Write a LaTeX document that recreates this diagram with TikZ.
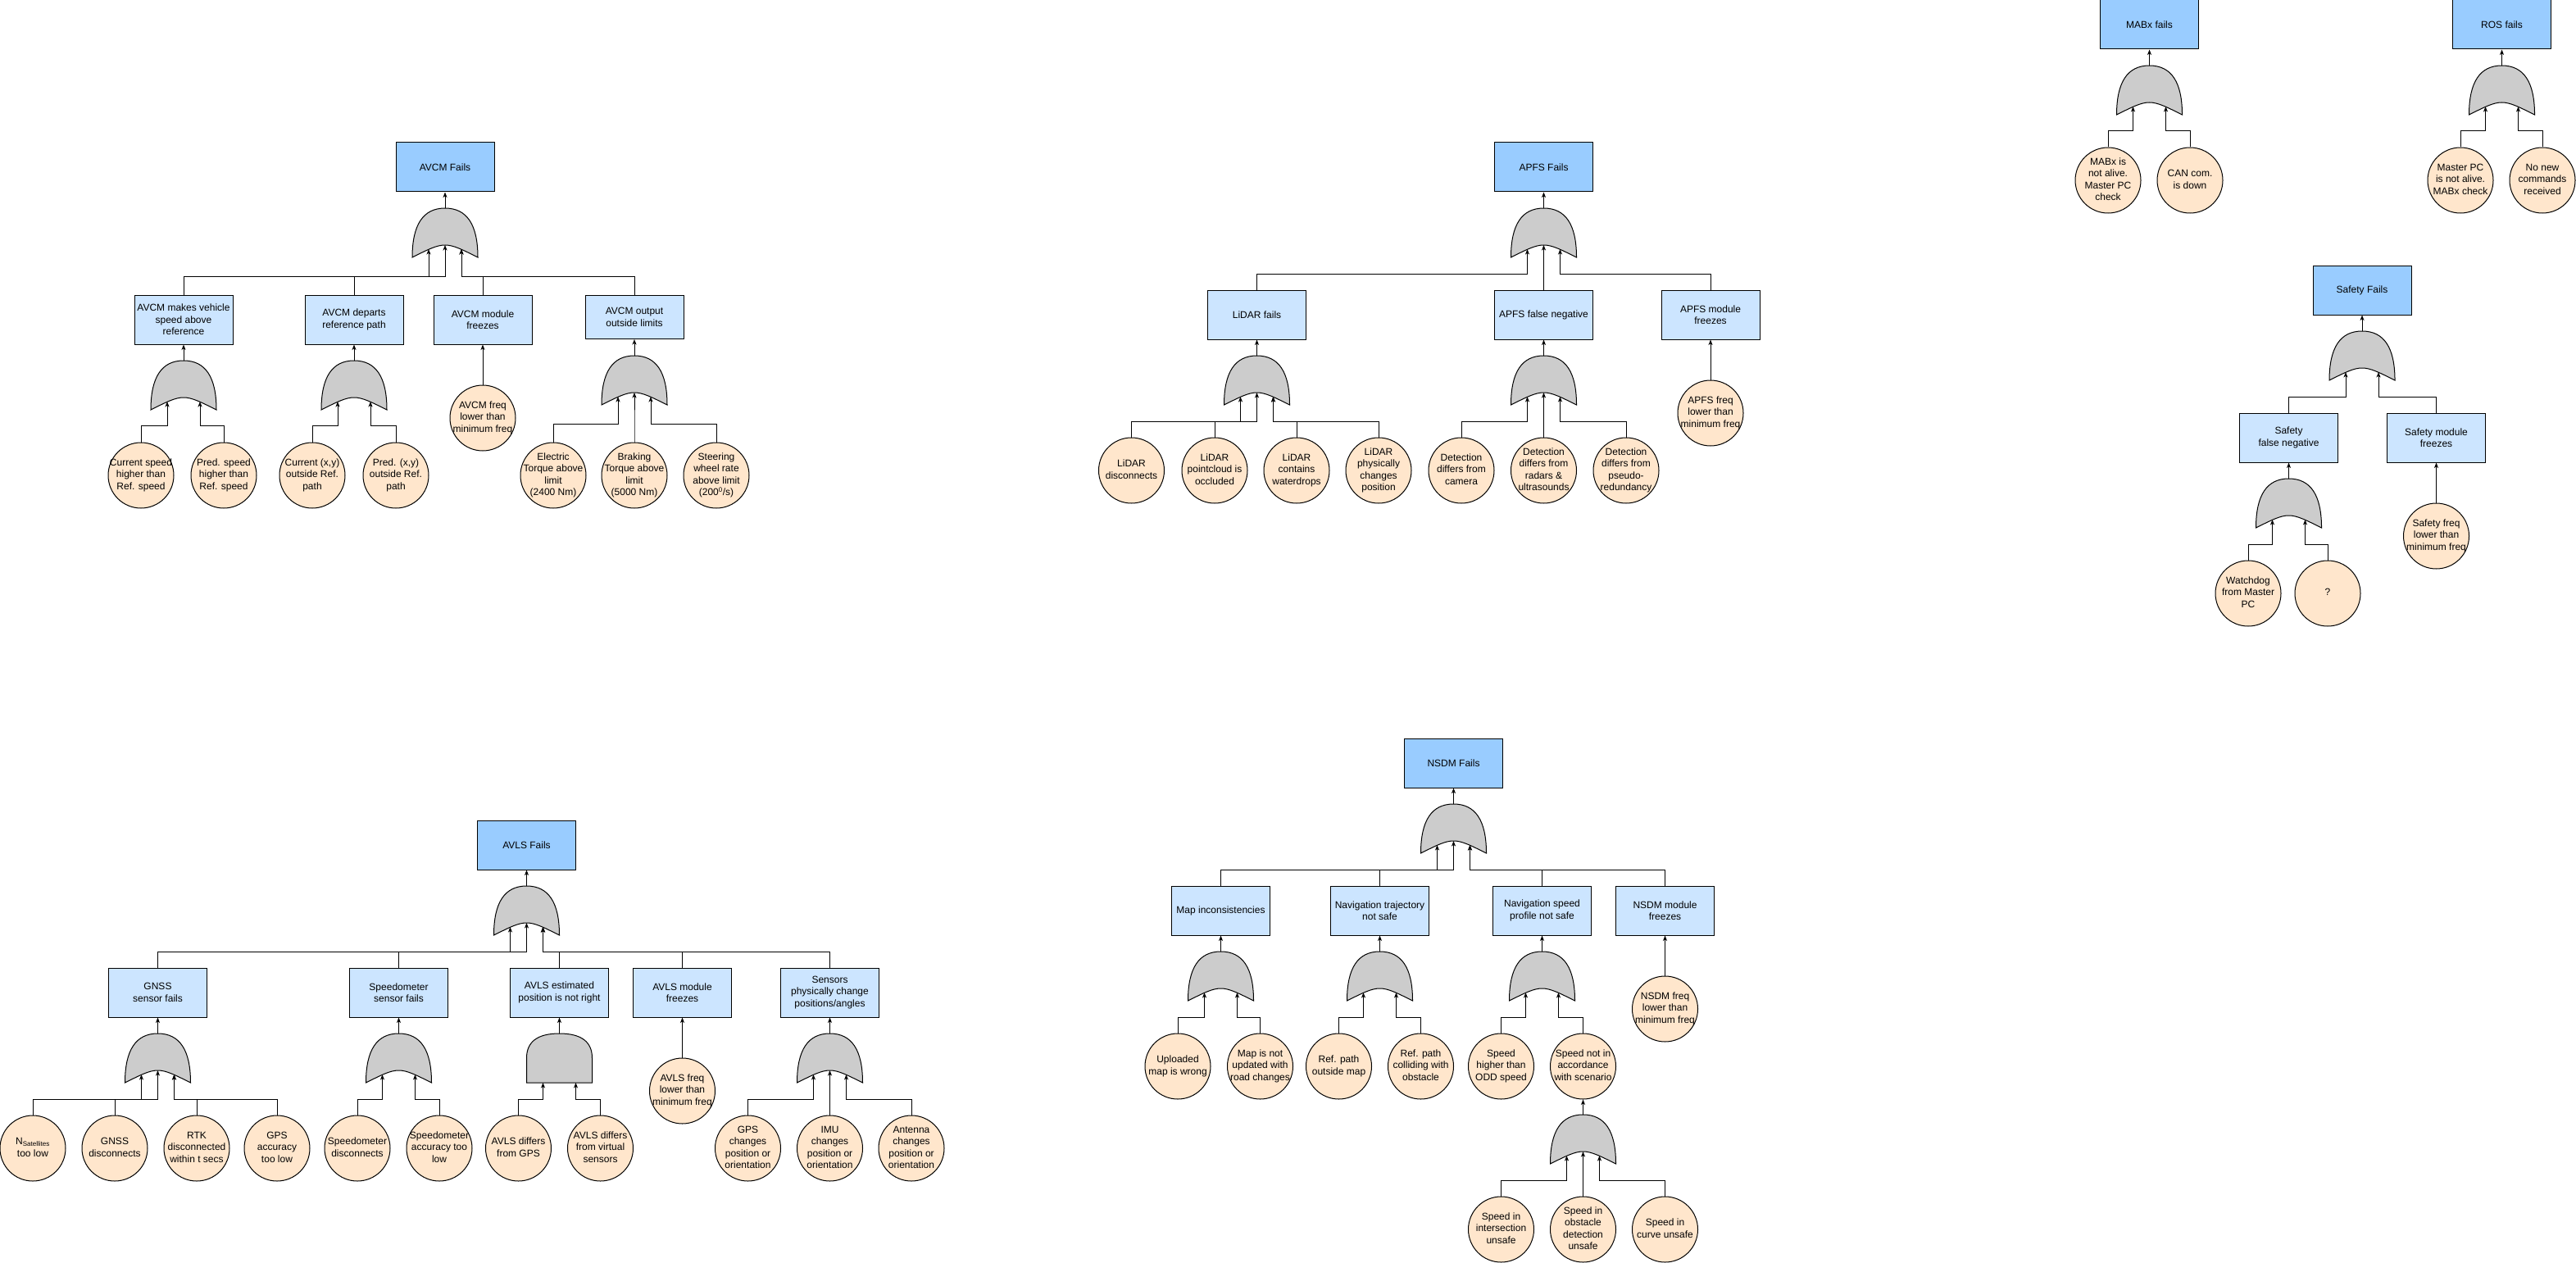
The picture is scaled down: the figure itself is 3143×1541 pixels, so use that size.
\documentclass[tikz,border=0pt]{standalone}
\usepackage{fontspec}
\setmainfont{Liberation Sans}
\usetikzlibrary{arrows.meta}

\definecolor{topblue}{HTML}{99CCFF}
\definecolor{subblue}{HTML}{CCE5FF}
\definecolor{evorange}{HTML}{FFE6CC}
\definecolor{gategray}{HTML}{CCCCCC}

\newcommand{\fsz}{\fontsize{12pt}{14.4pt}\selectfont}
\newcommand{\evtext}[1]{\makebox[0pt]{\begin{tabular}{@{}c@{}}#1\end{tabular}}}

\tikzset{
  every node/.style={font=\fsz},
  topbox/.style={draw, line width=1pt, fill=topblue, minimum width=120pt, minimum height=60pt, align=center, inner sep=2pt},
  subbox/.style={topbox, fill=subblue},
  event/.style={draw, line width=1pt, fill=evorange, circle, minimum size=80pt, inner sep=0pt},
  arr/.style={line width=1pt, -{Stealth[length=6.5pt,width=5pt,inset=1.8pt]}},
  gateshape/.style={draw, line width=1pt, fill=gategray},
  pics/orgate/.style={code={
    \draw[gateshape] (-40,60) .. controls (-40,20) and (-26.67,0) .. (0,0)
      .. controls (26.67,0) and (40,20) .. (40,60)
      .. controls (0,40) .. (-40,60) -- cycle;
    \coordinate (-out) at (0,0);
    \coordinate (-l) at (-20,50);
    \coordinate (-m) at (0,45);
    \coordinate (-r) at (20,50);
    \coordinate (-bus) at (0,#1);
  }},
  pics/andgate/.style={code={
    \draw[gateshape] (-40,60) -- (-40,30) .. controls (-40,10) and (-26.67,0) .. (0,0)
      .. controls (26.67,0) and (40,10) .. (40,30) -- (40,60) -- cycle;
    \coordinate (-out) at (0,0);
    \coordinate (-l) at (-20,60);
    \coordinate (-r) at (20,60);
    \coordinate (-bus) at (0,#1);
  }},
}

\begin{document}
\begin{tikzpicture}[x=1pt, y=-1pt]
  \fill[white] (0,0) rectangle (3143,1541);
  \useasboundingbox (0,0) rectangle (3143,1541);

  % AVCM
  \node[topbox] (avcm) at (543,204) {AVCM Fails};
  \pic (g0) at (543,254) {orgate=83};
  \node[subbox] (b1) at (224,390) {AVCM makes vehicle\\speed above\\reference};
  \node[subbox] (b2) at (432,390) {AVCM departs\\reference path};
  \node[subbox] (b3) at (589,390) {AVCM module\\freezes};
  \node[subbox, minimum height=53pt] (b4) at (774,387) {AVCM output\\outside limits};
  \pic (g1) at (224,440) {orgate=79};
  \pic (g2) at (432,440) {orgate=79};
  \pic (g4) at (774,434) {orgate=83};
  \node[event] (e1) at (172,580) {\evtext{Current speed\\higher than\\Ref. speed}};
  \node[event] (e2) at (273,580) {\evtext{Pred. speed\\higher than\\Ref. speed}};
  \node[event] (e3) at (381,580) {\evtext{Current (x,y)\\outside Ref.\\path}};
  \node[event] (e4) at (483,580) {\evtext{Pred. (x,y)\\outside Ref.\\path}};
  \node[event] (efreq) at (589,510) {\evtext{AVCM freq\\lower than\\minimum freq}};
  \node[event] (e5) at (675,580) {\evtext{Electric\\Torque above\\limit\\(2400 Nm)}};
  \node[event] (e6) at (774,580) {\evtext{Braking\\Torque above\\limit\\(5000 Nm)}};
  \node[event] (e7) at (874,580) {\evtext{Steering\\wheel rate\\above limit\\(200\textsuperscript{0}/s)}};
  \draw[arr] (g0-out) -- (avcm.south);
  \foreach \c/\i in {b1/l,b2/m,b3/r,b4/r}
    \draw[arr] (\c.north) -- (\c.north |- g0-bus) -| (g0-\i);
  \draw[arr] (g1-out) -- (b1.south);
  \draw[arr] (g2-out) -- (b2.south);
  \draw[arr] (g4-out) -- (b4.south);
  \draw[arr] (efreq.north) -- (b3.south);
  \foreach \c/\i in {e1/l,e2/r}
    \draw[arr] (\c.north) -- (\c.north |- g1-bus) -| (g1-\i);
  \foreach \c/\i in {e3/l,e4/r}
    \draw[arr] (\c.north) -- (\c.north |- g2-bus) -| (g2-\i);
  \foreach \c/\i in {e5/l,e6/m,e7/r}
    \draw[arr] (\c.north) -- (\c.north |- g4-bus) -| (g4-\i);

  % APFS
  \node[topbox] (apfs) at (1883.5,204) {APFS Fails};
  \pic (h0) at (1883.5,254) {orgate=80};
  \node[subbox] (c1) at (1533.5,384) {LiDAR fails};
  \node[subbox] (c2) at (1883.5,384) {APFS false negative};
  \node[subbox] (c3) at (2087,384) {APFS module\\freezes};
  \pic (h1) at (1533.5,434) {orgate=80};
  \pic (h2) at (1883.5,434) {orgate=80};
  \node[event] (l1) at (1380.5,574) {\evtext{LiDAR\\disconnects}};
  \node[event] (l2) at (1482,574) {\evtext{LiDAR\\pointcloud is\\occluded}};
  \node[event] (l3) at (1582,574) {\evtext{LiDAR\\contains\\waterdrops}};
  \node[event] (l4) at (1682,574) {\evtext{LiDAR\\physically\\changes\\position}};
  \node[event] (d1) at (1783,574) {\evtext{Detection\\differs from\\camera}};
  \node[event] (d2) at (1883.5,574) {\evtext{Detection\\differs from\\radars \&\\ultrasounds}};
  \node[event] (d3) at (1984,574) {\evtext{Detection\\differs from\\pseudo-\\redundancy}};
  \node[event] (pfreq) at (2087,504) {\evtext{APFS freq\\lower than\\minimum freq}};
  \draw[arr] (h0-out) -- (apfs.south);
  \foreach \c/\i in {c1/l,c2/m,c3/r}
    \draw[arr] (\c.north) -- (\c.north |- h0-bus) -| (h0-\i);
  \draw[arr] (h1-out) -- (c1.south);
  \draw[arr] (h2-out) -- (c2.south);
  \draw[arr] (pfreq.north) -- (c3.south);
  \foreach \c/\i in {l1/l,l2/m,l3/r,l4/r}
    \draw[arr] (\c.north) -- (\c.north |- h1-bus) -| (h1-\i);
  \foreach \c/\i in {d1/l,d2/m,d3/r}
    \draw[arr] (\c.north) -- (\c.north |- h2-bus) -| (h2-\i);

  % MABx and ROS
  \node[topbox] (mabx) at (2622.5,30) {MABx fails};
  \pic (m0) at (2622.5,80) {orgate=80};
  \node[event] (ma1) at (2572,220) {\evtext{MABx is\\not alive.\\Master PC\\check}};
  \node[event] (ma2) at (2672,220) {\evtext{CAN com.\\is down}};
  \draw[arr] (m0-out) -- (mabx.south);
  \foreach \c/\i in {ma1/l,ma2/r}
    \draw[arr] (\c.north) -- (\c.north |- m0-bus) -| (m0-\i);
  \node[topbox] (ros) at (3052.5,30) {ROS fails};
  \pic (r0) at (3052.5,80) {orgate=80};
  \node[event] (ro1) at (3002,220) {\evtext{Master PC\\is not alive.\\MABx check}};
  \node[event] (ro2) at (3102,220) {\evtext{No new\\commands\\received}};
  \draw[arr] (r0-out) -- (ros.south);
  \foreach \c/\i in {ro1/l,ro2/r}
    \draw[arr] (\c.north) -- (\c.north |- r0-bus) -| (r0-\i);

  % Safety
  \node[topbox] (safety) at (2882,354) {Safety Fails};
  \pic (s0) at (2882,404) {orgate=80};
  \node[subbox] (sf1) at (2792.5,534) {Safety\\false negative};
  \node[subbox] (sf2) at (2972.5,534) {Safety module\\freezes};
  \pic (s1) at (2792.5,584) {orgate=80};
  \node[event] (w1) at (2743,724) {\evtext{Watchdog\\from Master\\PC}};
  \node[event] (w2) at (2840,724) {\evtext{?}};
  \node[event] (sfreq) at (2972.5,654) {\evtext{Safety freq\\lower than\\minimum freq}};
  \draw[arr] (s0-out) -- (safety.south);
  \foreach \c/\i in {sf1/l,sf2/r}
    \draw[arr] (\c.north) -- (\c.north |- s0-bus) -| (s0-\i);
  \draw[arr] (s1-out) -- (sf1.south);
  \draw[arr] (sfreq.north) -- (sf2.south);
  \foreach \c/\i in {w1/l,w2/r}
    \draw[arr] (\c.north) -- (\c.north |- s1-bus) -| (s1-\i);

  % AVLS
  \node[topbox] (avls) at (642.5,1031) {AVLS Fails};
  \pic (v0) at (642.5,1081) {orgate=80};
  \node[subbox] (a1) at (192.5,1211) {GNSS\\sensor fails};
  \node[subbox] (a2) at (486.5,1211) {Speedometer\\sensor fails};
  \node[subbox] (a3) at (682.5,1211) {AVLS estimated\\position is not right};
  \node[subbox] (a4) at (832.5,1211) {AVLS module\\freezes};
  \node[subbox] (a5) at (1012.5,1211) {Sensors\\physically change\\positions/angles};
  \pic (v1) at (192.5,1261) {orgate=80};
  \pic (v2) at (486.5,1261) {orgate=80};
  \pic (v3) at (682.5,1261) {andgate=80};
  \pic (v5) at (1012.5,1261) {orgate=80};
  \node[event] (n1) at (40,1401) {\evtext{N\textsubscript{Satellites}\\too low}};
  \node[event] (n2) at (140,1401) {\evtext{GNSS\\disconnects}};
  \node[event] (n3) at (240,1401) {\evtext{RTK\\disconnected\\within t secs}};
  \node[event] (n4) at (338,1401) {\evtext{GPS\\accuracy\\too low}};
  \node[event] (sp1) at (436,1401) {\evtext{Speedometer\\disconnects}};
  \node[event] (sp2) at (536,1401) {\evtext{Speedometer\\accuracy too\\low}};
  \node[event] (ad1) at (632.5,1401) {\evtext{AVLS differs\\from GPS}};
  \node[event] (ad2) at (732.5,1401) {\evtext{AVLS differs\\from virtual\\sensors}};
  \node[event] (afreq) at (832.5,1331) {\evtext{AVLS freq\\lower than\\minimum freq}};
  \node[event] (ps1) at (912.5,1401) {\evtext{GPS\\changes\\position or\\orientation}};
  \node[event] (ps2) at (1012.5,1401) {\evtext{IMU\\changes\\position or\\orientation}};
  \node[event] (ps3) at (1112,1401) {\evtext{Antenna\\changes\\position or\\orientation}};
  \draw[arr] (v0-out) -- (avls.south);
  \foreach \c/\i in {a1/l,a2/m,a3/r,a4/r,a5/r}
    \draw[arr] (\c.north) -- (\c.north |- v0-bus) -| (v0-\i);
  \draw[arr] (v1-out) -- (a1.south);
  \draw[arr] (v2-out) -- (a2.south);
  \draw[arr] (v3-out) -- (a3.south);
  \draw[arr] (afreq.north) -- (a4.south);
  \draw[arr] (v5-out) -- (a5.south);
  \foreach \c/\i in {n1/l,n2/m,n3/r,n4/r}
    \draw[arr] (\c.north) -- (\c.north |- v1-bus) -| (v1-\i);
  \foreach \c/\i in {sp1/l,sp2/r}
    \draw[arr] (\c.north) -- (\c.north |- v2-bus) -| (v2-\i);
  \foreach \c/\i in {ad1/l,ad2/r}
    \draw[arr] (\c.north) -- (\c.north |- v3-bus) -| (v3-\i);
  \foreach \c/\i in {ps1/l,ps2/m,ps3/r}
    \draw[arr] (\c.north) -- (\c.north |- v5-bus) -| (v5-\i);

  % NSDM
  \node[topbox] (nsdm) at (1773.5,931) {NSDM Fails};
  \pic (q0) at (1773.5,981) {orgate=80};
  \node[subbox] (k1) at (1489.5,1111) {Map inconsistencies};
  \node[subbox] (k2) at (1683.5,1111) {Navigation trajectory\\not safe};
  \node[subbox] (k3) at (1881.5,1111) {Navigation speed\\profile not safe};
  \node[subbox] (k4) at (2031.5,1111) {NSDM module\\freezes};
  \pic (q1) at (1489.5,1161) {orgate=80};
  \pic (q2) at (1683.5,1161) {orgate=80};
  \pic (q3) at (1881.5,1161) {orgate=80};
  \node[event] (mp1) at (1437,1301) {\evtext{Uploaded\\map is wrong}};
  \node[event] (mp2) at (1537.5,1301) {\evtext{Map is not\\updated with\\road changes}};
  \node[event] (rp1) at (1633.5,1301) {\evtext{Ref. path\\outside map}};
  \node[event] (rp2) at (1733.5,1301) {\evtext{Ref. path\\colliding with\\obstacle}};
  \node[event] (sd1) at (1831.5,1301) {\evtext{Speed\\higher than\\ODD speed}};
  \node[event] (sd2) at (1931.5,1301) {\evtext{Speed not in\\accordance\\with scenario}};
  \node[event] (nfreq) at (2031.5,1231) {\evtext{NSDM freq\\lower than\\minimum freq}};
  \pic (q4) at (1931.5,1360) {orgate=80};
  \node[event] (si1) at (1831.5,1500) {\evtext{Speed in\\intersection\\unsafe}};
  \node[event] (si2) at (1931.5,1500) {\evtext{Speed in\\obstacle\\detection\\unsafe}};
  \node[event] (si3) at (2031.5,1500) {\evtext{Speed in\\curve unsafe}};
  \draw[arr] (q0-out) -- (nsdm.south);
  \foreach \c/\i in {k1/l,k2/m,k3/r,k4/r}
    \draw[arr] (\c.north) -- (\c.north |- q0-bus) -| (q0-\i);
  \draw[arr] (q1-out) -- (k1.south);
  \draw[arr] (q2-out) -- (k2.south);
  \draw[arr] (q3-out) -- (k3.south);
  \draw[arr] (nfreq.north) -- (k4.south);
  \draw[arr] (q4-out) -- (sd2.south);
  \foreach \c/\i in {mp1/l,mp2/r}
    \draw[arr] (\c.north) -- (\c.north |- q1-bus) -| (q1-\i);
  \foreach \c/\i in {rp1/l,rp2/r}
    \draw[arr] (\c.north) -- (\c.north |- q2-bus) -| (q2-\i);
  \foreach \c/\i in {sd1/l,sd2/r}
    \draw[arr] (\c.north) -- (\c.north |- q3-bus) -| (q3-\i);
  \foreach \c/\i in {si1/l,si2/m,si3/r}
    \draw[arr] (\c.north) -- (\c.north |- q4-bus) -| (q4-\i);
\end{tikzpicture}
\end{document}
